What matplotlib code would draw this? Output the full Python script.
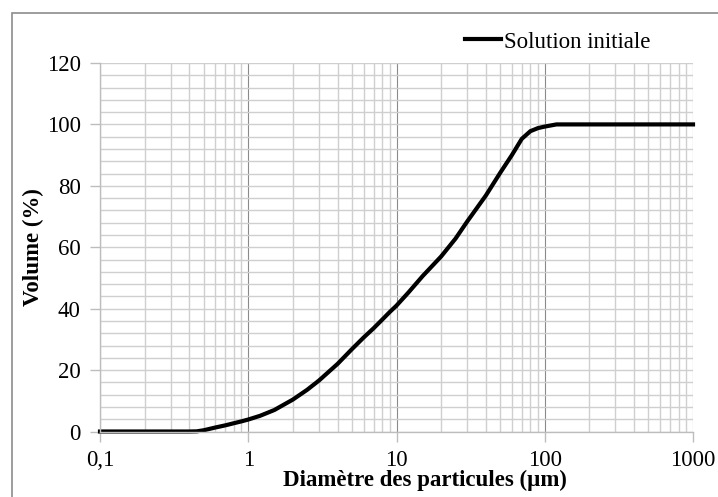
import matplotlib
matplotlib.use("Agg")
import matplotlib.pyplot as plt
from matplotlib.patches import Rectangle
from matplotlib.ticker import FixedLocator, NullFormatter, MultipleLocator

# cumulative volume distribution
diam_um = [0.1, 0.2, 0.3, 0.4, 0.45, 0.5, 0.6, 0.7, 0.8, 0.9, 1.0, 1.2, 1.5, 2.0,
           2.5, 3.0, 4.0, 5.0, 6.0, 7.0, 8.0, 9.0, 10.0, 12.0, 15.0, 20.0, 25.0,
           30.0, 40.0, 50.0, 60.0, 70.0, 80.0, 90.0, 100.0, 120.0, 200.0, 500.0, 1000.0]
volume_pct = [0.0, 0.0, 0.0, 0.0, 0.05, 0.4, 1.3, 2.0, 2.7, 3.3, 3.9, 5.1, 7.0, 10.4,
              13.6, 16.6, 22.0, 26.8, 30.6, 33.6, 36.4, 38.9, 41.0, 45.2, 50.6, 57.0, 62.8,
              68.4, 76.8, 84.2, 90.0, 95.3, 97.8, 98.8, 99.3, 100.0, 100.0, 100.0, 100.0]
series_name = "Solution initiale"
xtick_vals = [0.1, 1, 10, 100, 1000]
xtick_text = ["0,1", "1", "10", "100", "1000"]

W, H = 718, 497
plt.rcParams["font.family"] = ["Liberation Serif", "DejaVu Serif"]
fig = plt.figure(figsize=(W / 100, H / 100), dpi=100)

# outer chart frame
fig.patches.append(Rectangle((12 / W, -0.2), 1.2, (H - 13) / H + 0.2,
                             transform=fig.transFigure, fill=False,
                             edgecolor="#8c8c8c", lw=1.2, clip_on=False))

left, right, top, bottom = 100, 693, 63, 431.5
ax = fig.add_axes([left / W, (H - bottom) / H, (right - left) / W, (bottom - top) / H])

ax.set_xscale("log")
ax.set_xlim(0.1, 1000)
ax.set_ylim(0, 120)

# grid: light horizontal lines every 4 %, vertical decades darker
ax.yaxis.set_major_locator(MultipleLocator(20))
ax.yaxis.set_minor_locator(MultipleLocator(4))
ax.xaxis.set_major_locator(FixedLocator(xtick_vals))
ax.set_xticklabels(xtick_text)
minors = [m * 10.0 ** e for e in range(-1, 3) for m in range(2, 10)]
ax.xaxis.set_minor_locator(FixedLocator(minors))
ax.xaxis.set_minor_formatter(NullFormatter())

ax.grid(True, which="both", axis="y", color="#cfcfcf", lw=1.0)
ax.grid(True, which="minor", axis="x", color="#cfcfcf", lw=1.0)
ax.grid(True, which="major", axis="x", color="#8a8a8a", lw=0.8)
ax.set_axisbelow(True)

for s in ("top", "right"):
    ax.spines[s].set_visible(False)
for s in ("left", "bottom"):
    ax.spines[s].set_color("#bdbdbd")
    ax.spines[s].set_linewidth(1.0)

ax.tick_params(axis="both", which="major", direction="out", length=7, width=1.0,
               color="#bdbdbd", labelsize=16.5)
ax.tick_params(axis="y", which="major", pad=7)
ax.tick_params(axis="x", which="major", pad=6)
ax.tick_params(which="minor", length=0)

ax.plot(diam_um, volume_pct, color="black", lw=3.0, solid_joinstyle="round",
        label=series_name, clip_on=False)

ax.set_xlabel("Diamètre des particules (µm)", fontsize=16.5, fontweight="bold")
ax.xaxis.set_label_coords(0.548, -0.105)
ax.set_ylabel("Volume (%)", fontsize=16.5, fontweight="bold", labelpad=2)

ax.legend(loc="center right", bbox_to_anchor=(0.928, 1.057), frameon=False,
          fontsize=16.5, handlelength=1.6, handletextpad=0.12, borderaxespad=0,
          borderpad=0)

fig.savefig("out.png", dpi=100)
